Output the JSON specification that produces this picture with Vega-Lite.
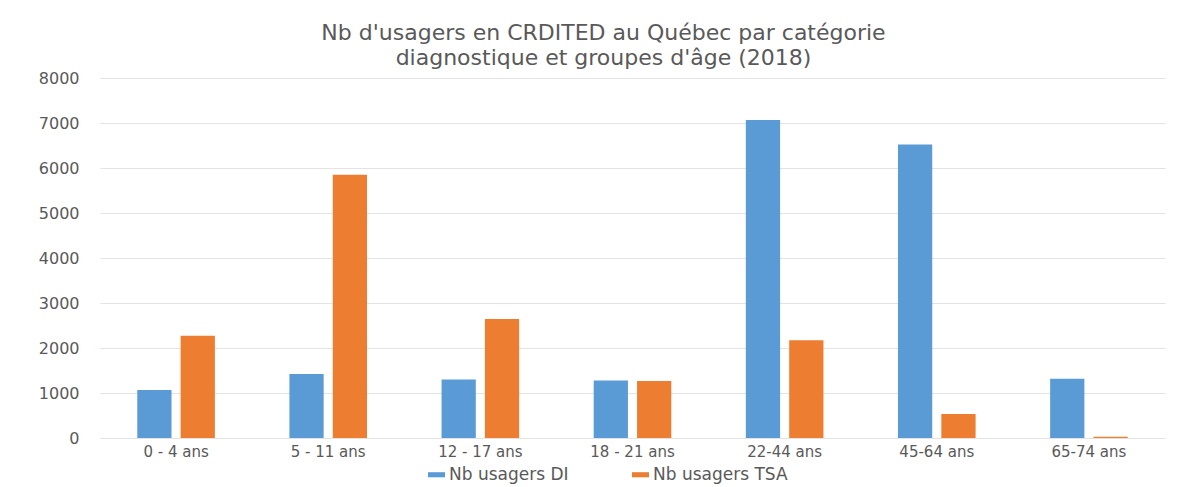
{
  "$schema": "https://vega.github.io/schema/vega-lite/v6.json",
  "autosize": {"type": "none"},
  "padding": {"left": 100, "top": 78, "right": 14, "bottom": 49},
  "width": 1065,
  "height": 360,
  "background": "white",
  "title": {
    "text": ["Nb d'usagers en CRDITED au Québec par catégorie", "diagnostique et groupes d'âge (2018)"],
    "font": "DejaVu Sans",
    "fontSize": 22,
    "fontWeight": "normal",
    "color": "#595959",
    "lineHeight": 25,
    "anchor": "middle",
    "dx": -29,
    "offset": 0
  },
  "data": {
    "values": [
      {"age": "0 - 4 ans", "serie": "Nb usagers DI", "value": 1065},
      {"age": "0 - 4 ans", "serie": "Nb usagers TSA", "value": 2270},
      {"age": "5 - 11 ans", "serie": "Nb usagers DI", "value": 1420},
      {"age": "5 - 11 ans", "serie": "Nb usagers TSA", "value": 5850},
      {"age": "12 - 17 ans", "serie": "Nb usagers DI", "value": 1300},
      {"age": "12 - 17 ans", "serie": "Nb usagers TSA", "value": 2645},
      {"age": "18 - 21 ans", "serie": "Nb usagers DI", "value": 1280},
      {"age": "18 - 21 ans", "serie": "Nb usagers TSA", "value": 1268},
      {"age": "22-44 ans", "serie": "Nb usagers DI", "value": 7065},
      {"age": "22-44 ans", "serie": "Nb usagers TSA", "value": 2170},
      {"age": "45-64 ans", "serie": "Nb usagers DI", "value": 6525},
      {"age": "45-64 ans", "serie": "Nb usagers TSA", "value": 533},
      {"age": "65-74 ans", "serie": "Nb usagers DI", "value": 1318},
      {"age": "65-74 ans", "serie": "Nb usagers TSA", "value": 28}
    ]
  },
  "mark": {"type": "bar"},
  "encoding": {
    "x": {
      "field": "age",
      "type": "nominal",
      "sort": null,
      "scale": {"paddingInner": 0.49, "paddingOuter": 0.245},
      "axis": {
        "title": null,
        "labelAngle": 0,
        "labelFont": "DejaVu Sans",
        "labelFontSize": 15,
        "labelColor": "#595959",
        "labelPadding": 6,
        "domain": false,
        "ticks": false,
        "grid": false
      }
    },
    "xOffset": {
      "field": "serie",
      "type": "nominal",
      "scale": {"paddingInner": 0.21, "paddingOuter": 0}
    },
    "y": {
      "field": "value",
      "type": "quantitative",
      "scale": {"domain": [0, 8000], "nice": false},
      "axis": {
        "title": null,
        "format": "d",
        "values": [0, 1000, 2000, 3000, 4000, 5000, 6000, 7000, 8000],
        "labelFont": "DejaVu Sans",
        "labelFontSize": 16,
        "labelColor": "#595959",
        "labelPadding": 21,
        "domain": false,
        "ticks": false,
        "grid": true,
        "gridColor": "#e3e3e3",
        "gridWidth": 1.2
      }
    },
    "color": {
      "field": "serie",
      "type": "nominal",
      "scale": {"domain": ["Nb usagers DI", "Nb usagers TSA"], "range": ["#5B9BD5", "#ED7D31"]},
      "legend": {
        "title": null,
        "orient": "none",
        "direction": "horizontal",
        "legendX": 328,
        "legendY": 388,
        "symbolType": "M-1,-0.3H1V0.3H-1Z",
        "symbolSize": 289,
        "symbolStrokeWidth": 0,
        "labelFont": "DejaVu Sans",
        "labelFontSize": 17,
        "labelColor": "#595959",
        "labelOffset": 4,
        "labelLimit": 300,
        "columnPadding": 63
      }
    }
  },
  "config": {
    "view": {"stroke": null}
  }
}
